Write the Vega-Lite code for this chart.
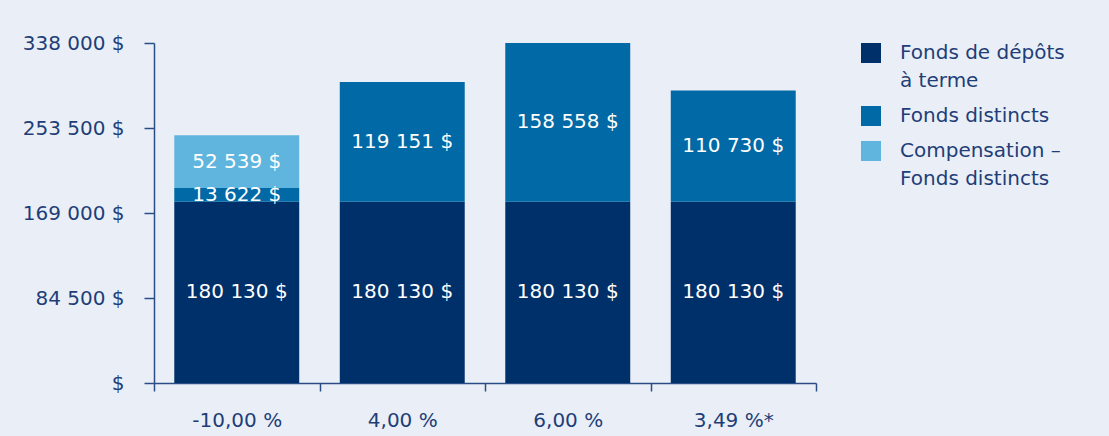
{
  "$schema": "https://vega.github.io/schema/vega-lite/v6.json",
  "width": 662,
  "height": 340,
  "autosize": {"type": "none"},
  "padding": {"left": 154, "top": 43, "right": 293, "bottom": 53},
  "background": "#eaeff7",
  "config": {
    "view": {"stroke": null},
    "font": "DejaVu Sans",
    "style": {"guide-label": {"lineHeight": 28}},
    "locale": {"number": {"decimal": ",", "thousands": " ", "grouping": [3], "currency": ["", " $"]}}
  },
  "data": {
    "values": [
      {"taux": "-10,00 %", "serie": "Fonds de dépôts|à terme", "ordre": 1, "value": 180130},
      {"taux": "-10,00 %", "serie": "Fonds distincts", "ordre": 2, "value": 13622},
      {"taux": "-10,00 %", "serie": "Compensation –|Fonds distincts", "ordre": 3, "value": 52539},
      {"taux": "4,00 %", "serie": "Fonds de dépôts|à terme", "ordre": 1, "value": 180130},
      {"taux": "4,00 %", "serie": "Fonds distincts", "ordre": 2, "value": 119151},
      {"taux": "6,00 %", "serie": "Fonds de dépôts|à terme", "ordre": 1, "value": 180130},
      {"taux": "6,00 %", "serie": "Fonds distincts", "ordre": 2, "value": 158558},
      {"taux": "3,49 %*", "serie": "Fonds de dépôts|à terme", "ordre": 1, "value": 180130},
      {"taux": "3,49 %*", "serie": "Fonds distincts", "ordre": 2, "value": 110730}
    ]
  },
  "transform": [
    {"stack": "value", "groupby": ["taux"], "sort": [{"field": "ordre"}], "as": ["v0", "v1"]},
    {"calculate": "(datum.v0 + datum.v1) / 2", "as": "mid"}
  ],
  "encoding": {
    "x": {
      "field": "taux", "type": "nominal", "sort": null,
      "scale": {"paddingInner": 0, "paddingOuter": 0},
      "axis": {
        "title": null, "labelAngle": 0, "tickBand": "extent", "tickSize": 8,
        "labelPadding": 19, "labelFontSize": 20, "labelColor": "#1f3e78",
        "domainColor": "#2a4d86", "tickColor": "#2a4d86", "domainWidth": 1.5, "tickWidth": 1.5
      }
    }
  },
  "layer": [
    {
      "mark": {"type": "bar", "clip": true, "width": {"band": 0.755}},
      "encoding": {
        "y": {
          "field": "v0", "type": "quantitative",
          "scale": {"domain": [0, 338000], "nice": false},
          "axis": {
            "title": null, "values": [0, 84500, 169000, 253500, 338000], "grid": false,
            "tickSize": 10, "labelPadding": 20, "labelFontSize": 20, "labelColor": "#1f3e78",
            "domainColor": "#2a4d86", "tickColor": "#2a4d86", "domainWidth": 1.5, "tickWidth": 1.5,
            "labelExpr": "datum.value == 0 ? '$' : replace(format(datum.value, ','), ',', ' ') + ' $'"
          }
        },
        "y2": {"field": "v1"},
        "color": {
          "field": "serie", "type": "nominal",
          "scale": {
            "domain": ["Fonds de dépôts|à terme", "Fonds distincts", "Compensation –|Fonds distincts"],
            "range": ["#003069", "#0069a6", "#60b5de"]
          },
          "legend": {
            "title": null, "orient": "right", "offset": 45, "symbolType": "square", "symbolSize": 400,
            "symbolStrokeWidth": 0, "symbolOpacity": 1, "labelFontSize": 20, "labelColor": "#1f3e78",
            "labelOffset": 19, "rowPadding": 15, "labelLimit": 300, "padding": 0,
            "labelExpr": "split(datum.label, '|')"
          }
        }
      }
    },
    {
      "mark": {"type": "text", "color": "white", "fontSize": 20},
      "encoding": {
        "y": {"field": "mid", "type": "quantitative"},
        "text": {"field": "value", "type": "quantitative", "format": "$,.0f"}
      }
    }
  ]
}
